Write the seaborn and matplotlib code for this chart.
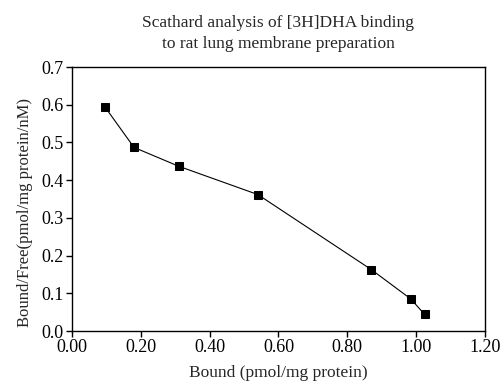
import matplotlib
matplotlib.use("Agg")
import matplotlib.pyplot as plt
import seaborn as sns
import pandas as pd

bound = [0.095, 0.18, 0.31, 0.54, 0.87, 0.985, 1.025]
bound_free = [0.595, 0.487, 0.437, 0.362, 0.163, 0.085, 0.044]
x_ticks = [0.0, 0.2, 0.4, 0.6, 0.8, 1.0, 1.2]
y_ticks = [0.0, 0.1, 0.2, 0.3, 0.4, 0.5, 0.6, 0.7]

sns.set_style("ticks")
plt.rcParams['font.family'] = ['Liberation Serif', 'DejaVu Serif']

df = pd.DataFrame({"Bound": bound, "BF": bound_free})

fig = plt.figure(figsize=(5.04, 3.81), dpi=100)
ax = fig.add_axes([0.143, 0.131, 0.819, 0.693])
sns.lineplot(data=df, x="Bound", y="BF", ax=ax, color="black", linewidth=0.8,
             marker="s", markersize=5.5, markeredgecolor="black", markerfacecolor="black")
ax.set_xlim(0, 1.2)
ax.set_ylim(0, 0.7)
ax.set_xticks(x_ticks)
ax.set_xticklabels([f"{v:.2f}" for v in x_ticks])
ax.set_yticks(y_ticks)
ax.set_yticklabels([f"{v:.1f}" for v in y_ticks])
ax.tick_params(direction="out", length=4, width=1, labelsize=13, colors="black", pad=2)
for s in ax.spines.values():
    s.set_visible(True)
    s.set_color("black")
    s.set_linewidth(1)
ax.set_xlabel("Bound (pmol/mg protein)", fontsize=12.5)
ax.xaxis.set_label_coords(0.5, -0.13)
ax.set_ylabel("Bound/Free(pmol/mg protein/nM)", fontsize=12)
ax.yaxis.set_label_coords(-0.095, 0.45)
ax.set_title("Scathard analysis of [3H]DHA binding\nto rat lung membrane preparation",
             fontsize=12.5, pad=14, linespacing=1.35)
fig.savefig("out.png", dpi=100)
